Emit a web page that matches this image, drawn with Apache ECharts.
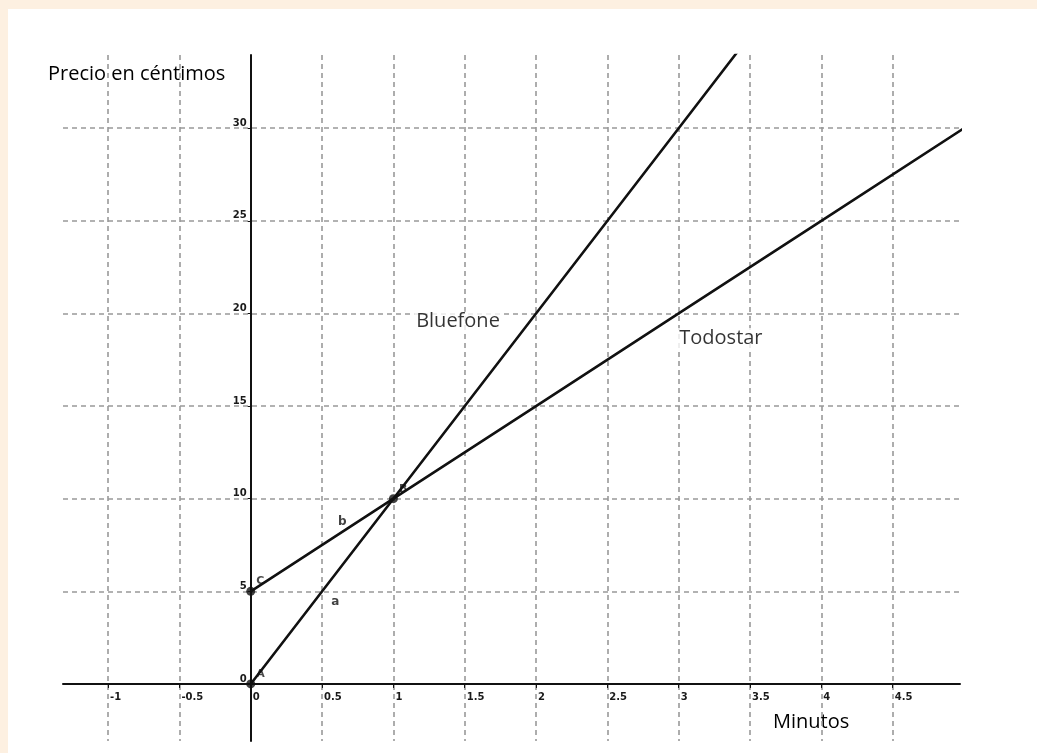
<!DOCTYPE html>
<html>
<head>
<meta charset="utf-8">
<script src="https://cdn.jsdelivr.net/npm/echarts@6/dist/echarts.min.js"></script>
<style>
html,body{margin:0;padding:0;background:#fdf0e1;}
#wrap{position:absolute;left:8px;top:9px;right:0;bottom:0;background:#ffffff;}
#chart{position:absolute;left:0;top:0;width:1037px;height:753px;}
</style>
</head>
<body>
<div id="wrap"></div>
<div id="chart"></div>
<script>
// ---- data ----
const xTicks = [-1, -0.5, 0, 0.5, 1, 1.5, 2, 2.5, 3, 3.5, 4, 4.5];
const yTicks = [0, 5, 10, 15, 20, 25, 30];
const bluefoneX = [0, 1, 2, 3, 4];
const bluefoneY = [0, 10, 20, 30, 40];
const todostarX = [0, 1, 2, 3, 4, 5];
const todostarY = [5, 10, 15, 20, 25, 30];
const pointNames = ['A', 'B', 'C'];
const pointX = [0, 1, 0];
const pointY = [0, 10, 5];
const segNames = ['a', 'b'];
const segX = [0.593, 0.642];
const segY = [4.43, 8.75];
const seriesNames = ['Bluefone', 'Todostar'];
const seriesLabelX = [1.453, 3.296];
const seriesLabelY = [19.55, 18.68];
const xName = 'Minutos';
const yName = 'Precio en céntimos';

const zip = (xs, ys) => xs.map((x, i) => [x, ys[i]]);

// layout
const W = 1037, H = 753;
const G = {left: 63, right: 77, top: 55, bottom: 12};
const xMin = -1.316, xMax = 4.972, yMin = -3.08, yMax = 33.95;
const gw = W - G.left - G.right, gh = H - G.top - G.bottom;
const xOff = -((0 - yMin) / (yMax - yMin)) * gh;   // move x axis up to y=0
const yOff = -((0 - xMin) / (xMax - xMin)) * gw;   // move y axis right to x=0

const chart = echarts.init(document.getElementById('chart'), null, {renderer: 'canvas'});
const gridDash = {show: true, lineStyle: {color: '#999', width: 1.6, type: [5, 4]}};
const tickFont = {fontFamily: 'DejaVu Sans', fontWeight: 'bold', fontSize: 10, color: '#1a1a1a'};
const textFont = {fontFamily: 'Open Sans', fontWeight: 500, fontSize: 20};

chart.setOption({
  backgroundColor: 'transparent',
  animation: false,
  grid: Object.assign({containLabel: false}, G),
  xAxis: {
    type: 'value', min: xMin, max: xMax, position: 'bottom', offset: xOff,
    axisLine: {show: true, onZero: false, lineStyle: {color: '#111', width: 2}},
    axisTick: {show: true, customValues: xTicks, length: 4, lineStyle: {color: '#111', width: 1}},
    axisLabel: Object.assign({show: true, customValues: xTicks, align: 'left', margin: 8, padding: [0, 0, 0, 2],
      formatter: v => String(v)}, tickFont),
    splitLine: gridDash
  },
  yAxis: {
    type: 'value', min: yMin, max: yMax, position: 'left', offset: yOff,
    axisLine: {show: true, onZero: false, lineStyle: {color: '#111', width: 2}},
    axisTick: {show: true, customValues: yTicks, length: 3, lineStyle: {color: '#111', width: 1}},
    axisLabel: Object.assign({show: true, customValues: yTicks, align: 'right', verticalAlign: 'bottom', margin: 4,
      formatter: v => String(v)}, tickFont),
    splitLine: gridDash
  },
  graphic: [
    {type: 'text', left: 48, top: 64, style: Object.assign({text: yName, fill: '#000'}, textFont)},
    {type: 'text', left: 773, top: 712, style: Object.assign({text: xName, fill: '#000'}, textFont)}
  ],
  series: [
    {name: seriesNames[0], type: 'line', data: zip(bluefoneX, bluefoneY), clip: true, symbol: 'none',
      lineStyle: {color: '#111', width: 2.6}},
    {name: seriesNames[1], type: 'line', data: zip(todostarX, todostarY), clip: true, symbol: 'none',
      lineStyle: {color: '#111', width: 2.6}},
    {type: 'scatter', data: pointX.map((x, i) => [x, pointY[i], pointNames[i]]), symbolSize: 9,
      itemStyle: {color: '#111'},
      label: {show: true, position: 'right', distance: 1, offset: [0, -10], formatter: p => p.value[2],
        fontFamily: 'DejaVu Sans', fontWeight: 'bold', fontSize: 11, color: '#1a1a1a'}},
    {type: 'scatter', data: segX.map((x, i) => [x, segY[i], segNames[i]]), symbolSize: 0,
      label: {show: true, position: 'inside', formatter: p => p.value[2],
        fontFamily: 'DejaVu Sans', fontWeight: 'bold', fontSize: 12, color: '#111'}},
    {type: 'scatter', data: seriesLabelX.map((x, i) => [x, seriesLabelY[i], seriesNames[i]]), symbolSize: 0,
      label: Object.assign({show: true, position: 'inside', formatter: p => p.value[2],
        color: '#000', backgroundColor: '#fff', padding: [0, 2]}, textFont)}
  ]
});
</script>
</body>
</html>
